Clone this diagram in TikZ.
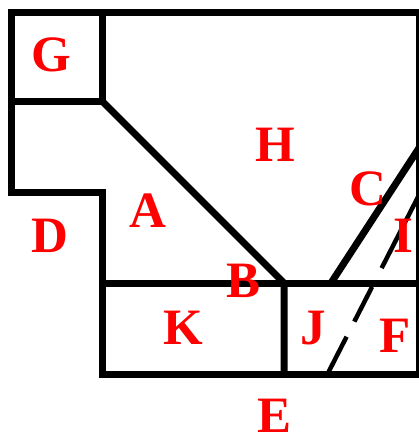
\documentclass[tikz,border=0pt]{standalone}
\usepackage{fontspec}
\setmainfont{Liberation Serif}
\begin{document}
\begin{tikzpicture}[x=1pt,y=-1pt,
  wall/.style={line width=7pt,line join=miter,line cap=rect},
  lbl/.style={text=red,inner sep=0pt,font=\bfseries\fontsize{51}{51}\selectfont},
  dashwall/.style={line width=4.5pt,dash pattern=on 43pt off 17pt on 39pt off 21pt on 95pt}]
\useasboundingbox (0,0) rectangle (418,439);
\fill[white] (0,0) rectangle (418,439);
\coordinate (tl) at (11,12);
\coordinate (tr) at (419,12);
\coordinate (br) at (419,374);
\coordinate (bl) at (102,374);
\coordinate (st) at (102,192);
\coordinate (sl) at (11,192);
\coordinate (gl) at (11,101);
\coordinate (gc) at (102,101);
\coordinate (gt) at (102,12);
\coordinate (ml) at (102,283);
\coordinate (mr) at (419,283);
\coordinate (bj) at (284,283);
\coordinate (bb) at (284,374);
\coordinate (c1) at (331,283);
\coordinate (c2) at (419,148);
\coordinate (d1) at (327,375);
\coordinate (d2) at (419,195);
\draw[wall] (br) -- (bl) -- (st) -- (sl) -- (tl) -- (tr) -- cycle;
\draw[wall] (gl) -- (gc) -- (gt);
\draw[wall] (gc) -- (bj) -- (bb);
\draw[wall] (ml) -- (mr);
\draw[wall,line cap=butt] (c1) -- (c2);
\draw[dashwall] (d1) -- (d2);
\node[lbl] (G) at (51,55) {G};
\node[lbl] (H) at (275,145) {H};
\node[lbl] (A) at (148,211) {A};
\node[lbl] (D) at (50,236) {D};
\node[lbl] (C) at (368,189) {C};
\node[lbl] (I) at (403,236) {I};
\node[lbl] (B) at (244,281) {B};
\node[lbl] (K) at (183,328) {K};
\node[lbl] (J) at (313,328) {J};
\node[lbl] (F) at (395,336) {F};
\node[lbl] (E) at (275,416) {E};
\end{tikzpicture}
\end{document}
